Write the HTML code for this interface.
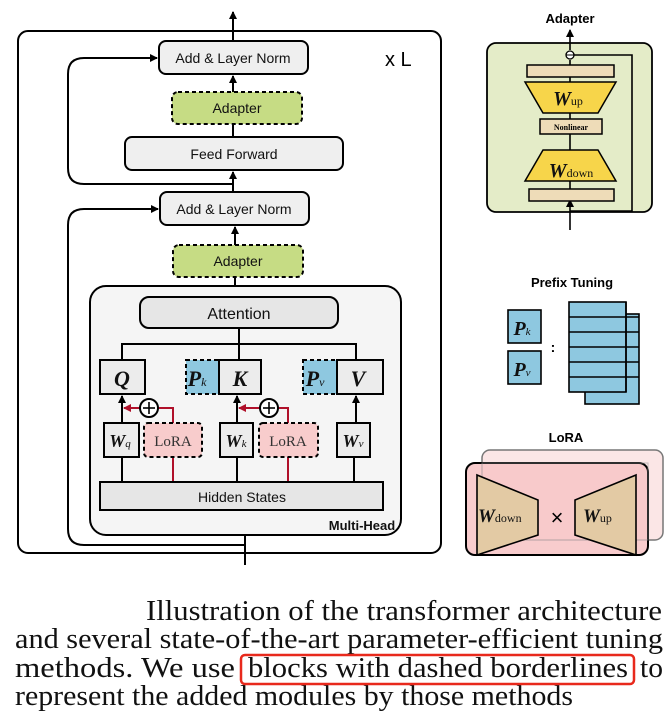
<!DOCTYPE html>
<html><head><meta charset="utf-8"><style>
html,body{margin:0;padding:0;background:#fff;}
svg{display:block;}
.s{font-family:"Liberation Sans",sans-serif;}
.r{font-family:"Liberation Serif",serif;}
</style></head><body>
<svg width="668" height="728" viewBox="0 0 668 728" xmlns="http://www.w3.org/2000/svg">
<defs>
<marker id="a" markerWidth="8" markerHeight="8" refX="7" refY="4" orient="auto" markerUnits="userSpaceOnUse"><path d="M0,0 L8,4 L0,8z" fill="#000"/></marker>
<marker id="ar" markerWidth="8" markerHeight="8" refX="7" refY="4" orient="auto" markerUnits="userSpaceOnUse"><path d="M0,0 L8,4 L0,8z" fill="#b0102a"/></marker>
</defs>
<g stroke="#000" stroke-width="2" fill="none">
<rect x="18" y="31" width="423" height="522" rx="10"/>
<line x1="233" y1="41" x2="233" y2="12" marker-end="url(#a)"/>
<path d="M233,184 H84 Q68,184 68,168 V74 Q68,58 84,58 H157" marker-end="url(#a)"/>
<path d="M245,545 H84 Q68,545 68,529 V225 Q68,209 84,209 H158" marker-end="url(#a)"/>
<line x1="245" y1="565" x2="245" y2="512" marker-end="url(#a)"/>
<line x1="233" y1="92" x2="233" y2="76" marker-end="url(#a)"/>
<line x1="233" y1="137" x2="233" y2="124"/>
<line x1="233" y1="192" x2="233" y2="172" marker-end="url(#a)"/>
<line x1="235" y1="245" x2="235" y2="227" marker-end="url(#a)"/>
<line x1="235" y1="297" x2="235" y2="277"/>
</g>
<g stroke="#000" stroke-width="2">
<rect x="159" y="41" width="149" height="33" rx="7" fill="#efefef"/>
<rect x="172" y="92" width="130" height="32" rx="6" fill="#c6dc84" stroke-dasharray="4,3"/>
<rect x="125" y="137" width="218" height="33" rx="7" fill="#efefef"/>
<rect x="160" y="192" width="149" height="33" rx="7" fill="#efefef"/>
<rect x="173" y="245" width="130" height="32" rx="6" fill="#c6dc84" stroke-dasharray="4,3"/>
<rect x="90" y="286" width="311" height="249" rx="16" fill="#f5f5f5"/>
<rect x="140" y="297" width="198" height="31" rx="9" fill="#e6e6e6"/>
</g>
<g stroke="#000" stroke-width="2" fill="none">
<line x1="239" y1="328" x2="239" y2="344"/>
<path d="M122,360 V344 H356 V360"/>
<line x1="239" y1="344" x2="239" y2="360"/>
<line x1="122" y1="423" x2="122" y2="396" marker-end="url(#a)"/>
<line x1="237" y1="423" x2="237" y2="396" marker-end="url(#a)"/>
<line x1="356" y1="423" x2="356" y2="396" marker-end="url(#a)"/>
<line x1="122" y1="482" x2="122" y2="457"/>
<line x1="237" y1="482" x2="237" y2="457"/>
<line x1="354" y1="482" x2="354" y2="457"/>
</g>
<g stroke="#b0102a" stroke-width="2" fill="none">
<line x1="173" y1="482" x2="173" y2="457"/>
<line x1="288" y1="482" x2="288" y2="457"/>
<path d="M173,423 V408 H158"/><line x1="140" y1="408" x2="124" y2="408" marker-end="url(#ar)"/>
<path d="M288,423 V408 H278"/><line x1="260" y1="408" x2="239" y2="408" marker-end="url(#ar)"/>
</g>
<g stroke="#000" stroke-width="2" fill="#fff">
<circle cx="149" cy="408" r="9"/><circle cx="269" cy="408" r="9"/>
</g>
<g stroke="#000" stroke-width="1.6"><line x1="149" y1="402" x2="149" y2="414"/><line x1="143" y1="408" x2="155" y2="408"/><line x1="269" y1="402" x2="269" y2="414"/><line x1="263" y1="408" x2="275" y2="408"/></g>
<g stroke="#000" stroke-width="2">
<rect x="100" y="360" width="45" height="34" fill="#ececec"/>
<rect x="186" y="360" width="33" height="34" fill="#8ec8e0" stroke-dasharray="4,3"/>
<rect x="219" y="360" width="42" height="34" fill="#ececec"/>
<rect x="303" y="360" width="34" height="34" fill="#8ec8e0" stroke-dasharray="4,3"/>
<rect x="337" y="360" width="46" height="34" fill="#ececec"/>
<rect x="104" y="423" width="35" height="34" fill="#ececec"/>
<rect x="144" y="423" width="58" height="34" rx="4" fill="#f8cccc" stroke-dasharray="4,3"/>
<rect x="220" y="423" width="33" height="34" fill="#ececec"/>
<rect x="259" y="423" width="59" height="34" rx="4" fill="#f8cccc" stroke-dasharray="4,3"/>
<rect x="337" y="423" width="33" height="34" fill="#ececec"/>
<rect x="100" y="482" width="283" height="28" fill="#e6e6e6"/>
</g>
<g class="s" font-size="14" text-anchor="middle" fill="#111">
<text x="233" y="63">Add &amp; Layer Norm</text>
<text x="237" y="113">Adapter</text>
<text x="234" y="159">Feed Forward</text>
<text x="234" y="214">Add &amp; Layer Norm</text>
<text x="238" y="266">Adapter</text>
<text x="239" y="319" font-size="16">Attention</text>
<text x="242" y="502">Hidden States</text>
<text x="362" y="530" font-size="13" font-weight="bold">Multi-Head</text>
</g>
<text x="385" y="66" class="s" font-size="20">x L</text>
<g class="r" font-style="italic" font-weight="bold" font-size="22" text-anchor="middle" fill="#111">
<text x="122" y="386">Q</text><text x="240" y="386">K</text><text x="358" y="386">V</text>
<text x="197" y="386">P<tspan font-size="12" font-weight="normal">k</tspan></text>
<text x="315" y="386">P<tspan font-size="12" font-weight="normal">v</tspan></text>
<text x="120" y="447" font-size="18">W<tspan font-size="11" font-weight="normal">q</tspan></text>
<text x="236" y="447" font-size="18">W<tspan font-size="11" font-weight="normal">k</tspan></text>
<text x="353" y="447" font-size="18">W<tspan font-size="11" font-weight="normal">v</tspan></text>
</g>
<g class="r" font-size="15" text-anchor="middle" fill="#333"><text x="173" y="446">LoRA</text><text x="288" y="446">LoRA</text></g>

<text x="570" y="23" class="s" font-size="13" font-weight="bold" text-anchor="middle">Adapter</text>
<rect x="487" y="43" width="165" height="169" rx="9" fill="#e4ecc8" stroke="#000" stroke-width="1.8"/>
<g stroke="#000" stroke-width="1.6" fill="none">
<line x1="570" y1="230" x2="570" y2="200" marker-end="url(#a)"/>
<line x1="570" y1="50" x2="570" y2="30" marker-end="url(#a)"/>
<path d="M574,55 H632 V211 H570"/>
<line x1="570" y1="60" x2="570" y2="200"/>
</g>
<circle cx="570" cy="55" r="4" fill="#fff" stroke="#000" stroke-width="1.3"/>
<line x1="566" y1="55" x2="574" y2="55" stroke="#000" stroke-width="1"/>
<g stroke="#000" stroke-width="1.5">
<rect x="527" y="65" width="87" height="12" fill="#eedcb8"/>
<polygon points="525,82 616,82 598,113 543,113" fill="#f7d54a"/>
<rect x="540" y="119" width="62" height="15" fill="#eedcb8"/>
<polygon points="543,150 598,150 616,181 525,181" fill="#f7d54a"/>
<rect x="529" y="189" width="85" height="12" fill="#eedcb8"/>
</g>
<g class="r" font-style="italic" font-weight="bold" fill="#111" text-anchor="middle">
<text x="568" y="105" font-size="20">W<tspan font-size="12" font-style="normal" font-weight="normal">up</tspan></text>
<text x="571" y="177" font-size="20">W<tspan font-size="12" font-style="normal" font-weight="normal">down</tspan></text>
</g>
<text x="571" y="130" class="r" font-size="8" font-weight="bold" text-anchor="middle">Nonlinear</text>

<text x="572" y="287" class="s" font-size="13" font-weight="bold" text-anchor="middle">Prefix Tuning</text>
<g stroke="#000" stroke-width="1.6" fill="#8ec8e0">
<rect x="508" y="310" width="33" height="33"/>
<rect x="508" y="351" width="33" height="33"/>
<rect x="585" y="314" width="54" height="90"/>
<rect x="569" y="302" width="57" height="90"/>
</g>
<g stroke="#000" stroke-width="1.4">
<line x1="569" y1="317" x2="639" y2="317"/><line x1="569" y1="332" x2="639" y2="332"/><line x1="569" y1="347" x2="639" y2="347"/><line x1="569" y1="362" x2="639" y2="362"/><line x1="569" y1="377" x2="639" y2="377"/>
</g>
<line x1="626" y1="302" x2="626" y2="392" stroke="#000" stroke-width="1.6"/>
<text x="553" y="352" class="s" font-size="14" font-weight="bold" text-anchor="middle">:</text>
<g class="r" font-style="italic" font-weight="bold" font-size="20" fill="#111" text-anchor="middle">
<text x="522" y="335">P<tspan font-size="11" font-weight="normal">k</tspan></text>
<text x="522" y="376">P<tspan font-size="11" font-weight="normal">v</tspan></text>
</g>

<text x="566" y="442" class="s" font-size="13" font-weight="bold" text-anchor="middle">LoRA</text>
<rect x="482" y="450" width="181" height="90" rx="8" fill="#fbe6e6" stroke="#777" stroke-width="1.5"/>
<rect x="466" y="463" width="182" height="92" rx="9" fill="#f7c6c8" fill-opacity="0.9" stroke="#000" stroke-width="2"/>
<rect x="482" y="463" width="166" height="77" fill="none" stroke="#999" stroke-width="1" opacity="0.6"/>
<g stroke="#000" stroke-width="1.6" fill="#e3caa4">
<polygon points="477,475 538,500 538,535 477,555"/>
<polygon points="636,475 575,500 575,535 636,555"/>
</g>
<g class="r" font-style="italic" font-weight="bold" fill="#111">
<text x="478" y="522" font-size="19">W<tspan font-size="12" font-style="normal" font-weight="normal">down</tspan></text>
<text x="583" y="522" font-size="19">W<tspan font-size="12" font-style="normal" font-weight="normal">up</tspan></text>
</g>
<text x="557" y="525" class="s" font-size="22" text-anchor="middle">×</text>

<g class="r" font-size="29" fill="#111">
<text x="146" y="620" textLength="516" lengthAdjust="spacingAndGlyphs">Illustration of the transformer architecture</text>
<text x="15" y="648" textLength="648" lengthAdjust="spacingAndGlyphs">and several state-of-the-art parameter-efficient tuning</text>
<text x="15" y="677" textLength="220" lengthAdjust="spacingAndGlyphs">methods.  We use</text>
<text x="248" y="677" textLength="380" lengthAdjust="spacingAndGlyphs">blocks with dashed borderlines</text>
<text x="640" y="677" textLength="23" lengthAdjust="spacingAndGlyphs">to</text>
<text x="15" y="705" textLength="558" lengthAdjust="spacingAndGlyphs">represent the added modules by those methods</text>
</g>
<rect x="241" y="655" width="393" height="29" rx="4" fill="none" stroke="#e8291c" stroke-width="2.5"/>
</svg>
</body></html>
